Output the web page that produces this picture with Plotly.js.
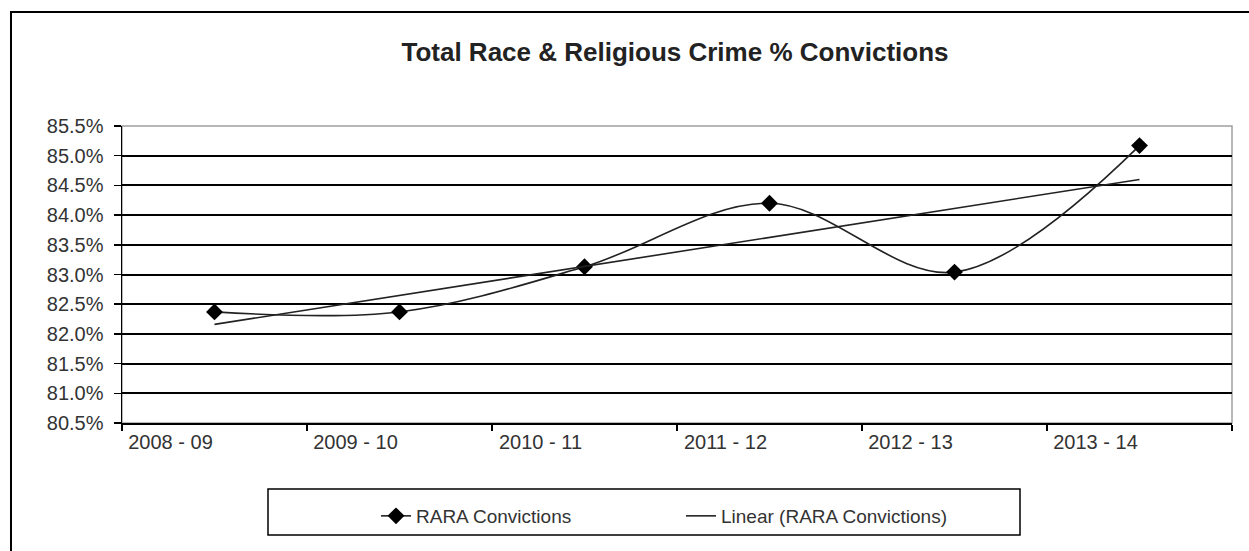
<!DOCTYPE html>
<html>
<head>
<meta charset="utf-8">
<script src="https://cdn.plot.ly/plotly-3.0.1.min.js"></script>
<style>html,body{margin:0;padding:0;background:#fff;}#chart{width:1249px;height:551px;}</style>
</head>
<body>
<div id="chart"></div>
<script>
// Data
const categories = ['2008 - 09', '2009 - 10', '2010 - 11', '2011 - 12', '2012 - 13', '2013 - 14'];
const convictions = [82.37, 82.37, 83.13, 84.20, 83.04, 85.17];
const seriesName = 'RARA Convictions';
const trendName = 'Linear (RARA Convictions)';
const chartTitle = 'Total Race & Religious Crime % Convictions';

// Linear trendline (least squares fit over category index, as Excel does)
const n = convictions.length;
const xs = convictions.map((_, i) => i + 1);
const mx = xs.reduce((a, b) => a + b, 0) / n;
const my = convictions.reduce((a, b) => a + b, 0) / n;
let sxy = 0, sxx = 0;
for (let i = 0; i < n; i++) { sxy += (xs[i] - mx) * (convictions[i] - my); sxx += (xs[i] - mx) ** 2; }
const slope = sxy / sxx, intercept = my - slope * mx;
const trend = xs.map(x => intercept + slope * x);

// Pixel helpers for layout (plot area 122..1232 x 126..423)
const L = 122, R = 1232, T = 126, B = 423;
const px = v => (v - L) / (R - L);
const py = v => (B - v) / (B - T);

const FONT = 'Liberation Sans, Arial, sans-serif';

const traces = [
  {
    x: categories, y: convictions, name: seriesName, type: 'scatter', mode: 'lines+markers',
    line: {color: '#222', width: 1.6, shape: 'spline', smoothing: 1},
    marker: {symbol: 'diamond', size: 13, color: '#000'}
  },
  {
    x: categories, y: trend, name: trendName, type: 'scatter', mode: 'lines',
    line: {color: '#222', width: 1.6}
  }
];

const layout = {
  width: 1249, height: 551,
  margin: {l: L, r: 1249 - R, t: T, b: 551 - B},
  paper_bgcolor: '#fff', plot_bgcolor: '#fff',
  showlegend: true,
  font: {family: FONT, size: 19, color: '#333'},
  title: {
    text: '<b>' + chartTitle + '</b>',
    font: {family: FONT, size: 26, color: '#222'},
    x: 675 / 1249, xanchor: 'center', xref: 'container',
    y: 1 - 52 / 551, yanchor: 'middle', yref: 'container'
  },
  xaxis: {
    type: 'category', range: [-0.5, 5.5],
    showline: true, linecolor: '#000', linewidth: 1.5,
    ticks: 'outside', tickson: 'boundaries', ticklen: 6, tickcolor: '#000', tickwidth: 1.5,
    showgrid: false, zeroline: false, ticklabelshift: -44,
    tickfont: {family: FONT, size: 20, color: '#333'}
  },
  yaxis: {
    range: [80.5, 85.5], tick0: 80.5, dtick: 0.5,
    tickformat: '.1f', ticksuffix: '%',
    showline: true, linecolor: '#000', linewidth: 1.5,
    ticks: 'outside', ticklen: 7, tickcolor: '#000', tickwidth: 1.5,
    showgrid: true, gridcolor: '#000', gridwidth: 2,
    zeroline: false, ticklabelstandoff: 6,
    tickfont: {family: FONT, size: 20, color: '#333'}
  },
  legend: {
    orientation: 'h', x: px(376), xanchor: 'left', y: py(516), yanchor: 'middle',
    entrywidth: 260, entrywidthmode: 'pixels',
    bgcolor: 'rgba(0,0,0,0)', borderwidth: 0,
    font: {family: FONT, size: 19, color: '#333'}
  },
  shapes: [
    // plot area border (grey)
    {type: 'rect', xref: 'paper', yref: 'paper', x0: 0, x1: 1, y0: 0, y1: 1,
     line: {color: '#a0a0a0', width: 1.5}, layer: 'below'},
    // legend box
    {type: 'rect', xref: 'paper', yref: 'paper', x0: px(268), x1: px(1020), y0: py(489), y1: py(535),
     line: {color: '#000', width: 1.5}, layer: 'below'},
    // outer chart frame
    {type: 'rect', xref: 'paper', yref: 'paper', x0: px(11), x1: px(1300), y0: py(12), y1: py(600),
     line: {color: '#000', width: 2}, layer: 'below'}
  ]
};

Plotly.newPlot('chart', traces, layout, {displayModeBar: false, staticPlot: true});
</script>
</body>
</html>
